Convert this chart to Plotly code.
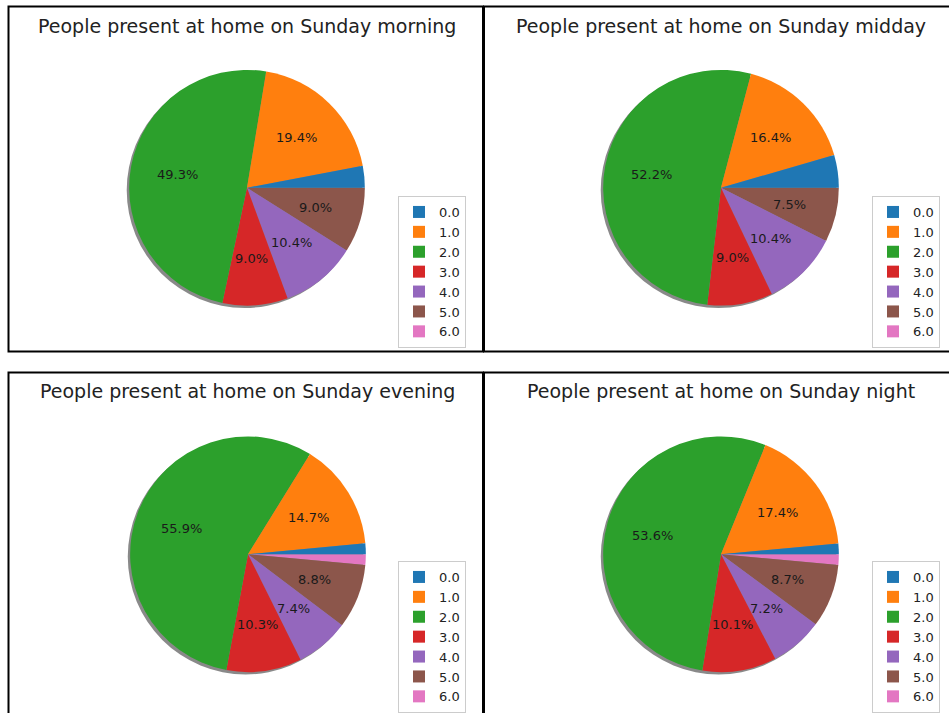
import math
import plotly.graph_objects as go

# Household members present at home on Sunday, counts per number of people
categories = ["0.0", "1.0", "2.0", "3.0", "4.0", "5.0", "6.0"]
morning = [2, 13, 33, 6, 7, 6, 0]
midday = [3, 11, 35, 6, 7, 5, 0]
evening = [1, 10, 38, 7, 5, 6, 1]
night = [1, 12, 37, 7, 5, 6, 1]

periods = ["morning", "midday", "evening", "night"]
series = [morning, midday, evening, night]

colors = ["#1f77b4", "#ff7f0e", "#2ca02c", "#d62728", "#9467bd", "#8c564b", "#e377c2"]

W, H = 949, 713
FONT = "DejaVu Sans"

# panel layout in pixels: pie centre, title position, legend top-left
panels = [
    dict(cx=247, cy=188, ty=26, lx=398, ly=196),
    dict(cx=721, cy=188, ty=26, lx=872, ly=196),
    dict(cx=248, cy=555, ty=392, lx=398, ly=562),
    dict(cx=721, cy=555, ty=392, lx=872, ly=562),
]
R = 118
SHADOW = 2.4
LABEL_RADIUS = 0.6   # percentage labels sit at 60 % of the radius
MIN_PCT = 5.0        # smaller slices get no label


def px_x(v):
    return v / W


def px_y(v):
    return 1 - v / H


fig = go.Figure()
layout_legends = {}
annotations = []

for i, (name, vals, p) in enumerate(zip(periods, series, panels)):
    legend_id = "legend" if i == 0 else f"legend{i + 1}"
    total = sum(vals)

    # soft drop shadow under the pie
    fig.add_trace(go.Pie(
        values=[1],
        labels=["shadow"],
        marker=dict(colors=["rgba(40,40,40,0.55)"], line=dict(width=0)),
        textinfo="none",
        hoverinfo="skip",
        showlegend=False,
        sort=False,
        domain=dict(
            x=[px_x(p["cx"] - SHADOW - R), px_x(p["cx"] - SHADOW + R)],
            y=[px_y(p["cy"] + SHADOW + R), px_y(p["cy"] + SHADOW - R)],
        ),
    ))

    # slices drawn clockwise from 3 o'clock in reverse order, so that the
    # first category sits just above the 3 o'clock line (counter-clockwise order)
    fig.add_trace(go.Pie(
        labels=categories[::-1],
        values=vals[::-1],
        sort=False,
        direction="clockwise",
        rotation=90,
        marker=dict(colors=colors[::-1], line=dict(width=0)),
        textinfo="none",
        hovertemplate="%{label}: %{value} (%{percent:.1%})<extra></extra>",
        legend=legend_id,
        legendgroup=f"pie{i}",
        showlegend=True,
        domain=dict(
            x=[px_x(p["cx"] - R), px_x(p["cx"] + R)],
            y=[px_y(p["cy"] + R), px_y(p["cy"] - R)],
        ),
    ))

    # percentage labels along each slice's bisector
    cum = 0
    for v in vals:
        pct = 100.0 * v / total
        mid = 2 * math.pi * (cum + v / 2) / total
        cum += v
        if pct <= MIN_PCT:
            continue
        annotations.append(dict(
            text=f"{pct:.1f}%",
            x=px_x(p["cx"] + LABEL_RADIUS * R * math.cos(mid)),
            y=px_y(p["cy"] - LABEL_RADIUS * R * math.sin(mid)),
            xref="paper", yref="paper",
            xanchor="center", yanchor="middle",
            showarrow=False,
            font=dict(family=FONT, size=13, color="#1a1a1a"),
        ))

    layout_legends[legend_id] = dict(
        x=px_x(p["lx"]), y=px_y(p["ly"]),
        xanchor="left", yanchor="top",
        bgcolor="white",
        bordercolor="#cccccc", borderwidth=1,
        font=dict(family=FONT, size=13, color="#222222"),
        tracegroupgap=0,
        traceorder="reversed",
        visible=True,
    )

    annotations.append(dict(
        text=f"People present at home on Sunday {name}",
        x=px_x(p["cx"]), y=px_y(p["ty"]),
        xref="paper", yref="paper",
        xanchor="center", yanchor="middle",
        showarrow=False,
        font=dict(family=FONT, size=19, color="#222222"),
    ))

# panel frames
frames = [
    (8.5, 6.5, 483, 352),
    (484, 6.5, 975, 352),
    (8.5, 373, 483, 740),
    (484, 373, 975, 740),
]
shapes = [
    dict(type="rect", xref="paper", yref="paper",
         x0=px_x(x0), x1=px_x(x1), y0=px_y(y1), y1=px_y(y0),
         line=dict(color="black", width=2), fillcolor="rgba(0,0,0,0)")
    for x0, y0, x1, y1 in frames
]

fig.update_layout(
    width=W, height=H,
    margin=dict(l=0, r=0, t=0, b=0),
    paper_bgcolor="white",
    plot_bgcolor="white",
    font=dict(family=FONT),
    showlegend=True,
    annotations=annotations,
    shapes=shapes,
    **layout_legends,
)

fig.write_html("out.html")
